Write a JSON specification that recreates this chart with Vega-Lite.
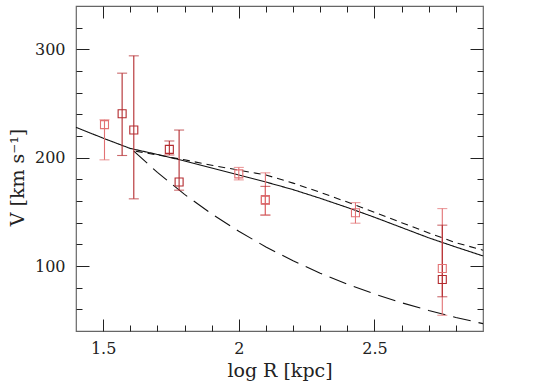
{
  "$schema": "https://vega.github.io/schema/vega-lite/v6.json",
  "autosize": "none",
  "width": 407,
  "height": 325,
  "padding": {"left": 76, "top": 6, "right": 77, "bottom": 53},
  "background": "white",
  "config": {
    "view": {"stroke": "#666", "strokeWidth": 1.2},
    "axis": {
      "labelFont": "DejaVu Serif", "labelFontSize": 16, "labelColor": "#222",
      "titleFont": "DejaVu Serif", "titleFontSize": 19, "titleFontWeight": "normal", "titleColor": "#222",
      "tickColor": "#222", "tickWidth": 1, "domain": false, "grid": false
    }
  },
  "datasets": {
    "curves": [
      {"x": 1.4, "v": 228, "model": "solid"},
      {"x": 1.5, "v": 218, "model": "solid"},
      {"x": 1.6, "v": 208.5, "model": "solid"},
      {"x": 1.7, "v": 203, "model": "solid"},
      {"x": 1.8, "v": 197, "model": "solid"},
      {"x": 1.9, "v": 190.5, "model": "solid"},
      {"x": 2.0, "v": 184, "model": "solid"},
      {"x": 2.1, "v": 177.5, "model": "solid"},
      {"x": 2.2, "v": 170.5, "model": "solid"},
      {"x": 2.3, "v": 162.5, "model": "solid"},
      {"x": 2.4, "v": 154, "model": "solid"},
      {"x": 2.5, "v": 145, "model": "solid"},
      {"x": 2.6, "v": 135.5, "model": "solid"},
      {"x": 2.7, "v": 126, "model": "solid"},
      {"x": 2.8, "v": 117.5, "model": "solid"},
      {"x": 2.9, "v": 109.3, "model": "solid"},
      {"x": 1.62, "v": 206, "model": "dashed"},
      {"x": 1.7, "v": 202.5, "model": "dashed"},
      {"x": 1.8, "v": 198, "model": "dashed"},
      {"x": 1.9, "v": 193, "model": "dashed"},
      {"x": 2.0, "v": 188.5, "model": "dashed"},
      {"x": 2.1, "v": 184, "model": "dashed"},
      {"x": 2.2, "v": 176.5, "model": "dashed"},
      {"x": 2.3, "v": 168, "model": "dashed"},
      {"x": 2.4, "v": 159, "model": "dashed"},
      {"x": 2.5, "v": 149.5, "model": "dashed"},
      {"x": 2.6, "v": 140, "model": "dashed"},
      {"x": 2.7, "v": 130.5, "model": "dashed"},
      {"x": 2.8, "v": 121.5, "model": "dashed"},
      {"x": 2.9, "v": 114.6, "model": "dashed"},
      {"x": 1.613, "v": 206, "model": "longdash"},
      {"x": 1.7, "v": 186.4, "model": "longdash"},
      {"x": 1.8, "v": 166.1, "model": "longdash"},
      {"x": 1.9, "v": 148.1, "model": "longdash"},
      {"x": 2.0, "v": 132, "model": "longdash"},
      {"x": 2.1, "v": 117.6, "model": "longdash"},
      {"x": 2.2, "v": 104.8, "model": "longdash"},
      {"x": 2.3, "v": 93.4, "model": "longdash"},
      {"x": 2.4, "v": 83.3, "model": "longdash"},
      {"x": 2.5, "v": 74.2, "model": "longdash"},
      {"x": 2.6, "v": 66.1, "model": "longdash"},
      {"x": 2.7, "v": 59, "model": "longdash"},
      {"x": 2.8, "v": 52.5, "model": "longdash"},
      {"x": 2.9, "v": 46.8, "model": "longdash"}
    ],
    "obs": [
      {"x": 2.098, "v": 161, "lo": 147, "hi": 173.5, "set": "dark"},
      {"x": 1.505, "v": 230.5, "lo": 198, "hi": 235, "set": "light"},
      {"x": 1.57, "v": 240.5, "lo": 202, "hi": 278, "set": "dark"},
      {"x": 1.613, "v": 225.5, "lo": 162, "hi": 294, "set": "dark"},
      {"x": 1.744, "v": 207.7, "lo": 202.5, "hi": 215.4, "set": "dark"},
      {"x": 1.78, "v": 177.5, "lo": 170, "hi": 225.5, "set": "dark"},
      {"x": 2.0, "v": 185, "lo": 179.5, "hi": 191, "set": "light"},
      {"x": 2.098, "v": 161, "lo": 147, "hi": 186, "set": "light"},
      {"x": 2.43, "v": 149.2, "lo": 139.5, "hi": 158.5, "set": "light"},
      {"x": 2.75, "v": 97.7, "lo": 54.5, "hi": 153, "set": "light"},
      {"x": 2.75, "v": 87.5, "lo": 71.6, "hi": 137.7, "set": "dark"}
    ]
  },
  "resolve": {"axis": {"x": "independent", "y": "independent"}},
  "layer": [
    {
      "data": {"name": "curves"},
      "mark": {"type": "line", "color": "#111", "strokeWidth": 1.1},
      "encoding": {
        "x": {"field": "x", "type": "quantitative",
          "scale": {"domain": [1.4, 2.9], "nice": false, "zero": false},
          "axis": {"orient": "bottom", "title": "log R [kpc]",
            "values": [1.5, 1.6, 1.7, 1.8, 1.9, 2.0, 2.1, 2.2, 2.3, 2.4, 2.5, 2.6, 2.7, 2.8],
            "labelExpr": "abs(datum.value*2 - round(datum.value*2)) < 0.001 ? '' + round(datum.value*10)/10 : ''",
            "tickSize": {"condition": {"test": "abs(datum.value*2 - round(datum.value*2)) < 0.001", "value": -12}, "value": -6},
            "labelPadding": 21, "titleY": 45, "titleBaseline": "alphabetic"}},
        "y": {"field": "v", "type": "quantitative",
          "scale": {"domain": [40, 340], "nice": false, "zero": false},
          "axis": {"orient": "left", "title": "V [km s⁻¹]",
            "values": [60, 80, 100, 120, 140, 160, 180, 200, 220, 240, 260, 280, 300, 320],
            "labelExpr": "datum.value % 100 == 0 ? '' + datum.value : ''",
            "tickSize": {"condition": {"test": "datum.value % 100 == 0", "value": -13}, "value": -6},
            "labelPadding": 24, "titleX": -53, "titleY": 171, "titleBaseline": "alphabetic"}},
        "strokeDash": {"field": "model", "type": "nominal",
          "scale": {"domain": ["solid", "dashed", "longdash"], "range": [[1, 0], [7, 5], [18, 8]]},
          "legend": null}
      }
    },
    {
      "data": {"name": "obs"},
      "mark": {"type": "rule", "strokeWidth": 1.1},
      "encoding": {
        "x": {"field": "x", "type": "quantitative",
          "axis": {"orient": "top", "title": null, "labels": false,
            "values": [1.5, 1.6, 1.7, 1.8, 1.9, 2.0, 2.1, 2.2, 2.3, 2.4, 2.5, 2.6, 2.7, 2.8],
            "tickSize": {"condition": {"test": "abs(datum.value*2 - round(datum.value*2)) < 0.001", "value": -12}, "value": -6}}},
        "y": {"field": "lo", "type": "quantitative",
          "axis": {"orient": "right", "title": null, "labels": false,
            "values": [60, 80, 100, 120, 140, 160, 180, 200, 220, 240, 260, 280, 300, 320],
            "tickSize": {"condition": {"test": "datum.value % 100 == 0", "value": -13}, "value": -6}}},
        "y2": {"field": "hi"},
        "color": {"field": "set", "type": "nominal",
          "scale": {"domain": ["dark", "light"], "range": ["#b32a2e", "#e27274"]}, "legend": null}
      }
    },
    {
      "data": {"name": "obs"},
      "mark": {"type": "tick", "orient": "horizontal", "size": 10, "thickness": 1.1},
      "encoding": {
        "x": {"field": "x", "type": "quantitative", "axis": null},
        "y": {"field": "lo", "type": "quantitative", "axis": null},
        "color": {"field": "set", "type": "nominal", "legend": null}
      }
    },
    {
      "data": {"name": "obs"},
      "mark": {"type": "tick", "orient": "horizontal", "size": 10, "thickness": 1.1},
      "encoding": {
        "x": {"field": "x", "type": "quantitative", "axis": null},
        "y": {"field": "hi", "type": "quantitative", "axis": null},
        "color": {"field": "set", "type": "nominal", "legend": null}
      }
    },
    {
      "data": {"name": "obs"},
      "mark": {"type": "point", "shape": "square", "size": 64, "filled": false, "strokeWidth": 1.1, "opacity": 1},
      "encoding": {
        "x": {"field": "x", "type": "quantitative", "axis": null},
        "y": {"field": "v", "type": "quantitative", "axis": null},
        "color": {"field": "set", "type": "nominal", "legend": null}
      }
    }
  ]
}
